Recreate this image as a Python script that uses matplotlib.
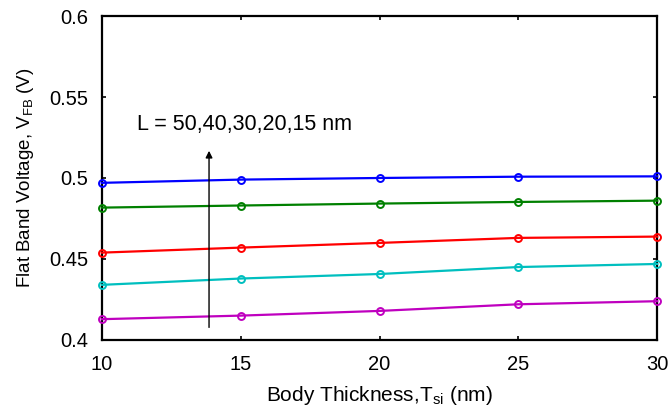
import matplotlib
matplotlib.use("Agg")
import matplotlib.pyplot as plt

plt.rcParams['font.family'] = ['Liberation Sans', 'DejaVu Sans']
plt.rcParams['mathtext.fontset'] = 'custom'
plt.rcParams['mathtext.rm'] = 'Liberation Sans'

tsi = [10, 15, 20, 25, 30]
vfb_L50 = [0.497, 0.499, 0.500, 0.5008, 0.501]
vfb_L40 = [0.4817, 0.483, 0.4842, 0.4852, 0.486]
vfb_L30 = [0.4539, 0.457, 0.4599, 0.463, 0.4638]
vfb_L20 = [0.434, 0.4379, 0.4407, 0.445, 0.4469]
vfb_L15 = [0.4128, 0.415, 0.4179, 0.422, 0.4239]
series = [vfb_L50, vfb_L40, vfb_L30, vfb_L20, vfb_L15]
colors = ['#0000ff', '#008000', '#ff0000', '#00bfbf', '#bf00bf']

fig = plt.figure(figsize=(6.7, 4.12), dpi=100)
ax = fig.add_axes([0.152, 0.175, 0.829, 0.786])
for ys, c in zip(series, colors):
    ax.plot(tsi, ys, color=c, lw=1.6, marker='o', ms=5, mfc='none', mew=1.4, clip_on=False, zorder=3)

ax.set_xlim(10, 30)
ax.set_ylim(0.4, 0.6)
ax.set_xticks([10, 15, 20, 25, 30])
ax.set_yticks([0.4, 0.45, 0.5, 0.55, 0.6])
ax.set_yticklabels(['0.4', '0.45', '0.5', '0.55', '0.6'])
ax.tick_params(direction='in', top=True, right=True, labelsize=14.5, length=3, width=1.2)
ax.tick_params(axis='x', pad=11)
ax.tick_params(axis='y', pad=10)
for s in ax.spines.values():
    s.set_linewidth(1.6)

ax.set_xlabel('Body Thickness,T$_{\\mathrm{si}}$ (nm)', fontsize=15, labelpad=7)
ax.set_ylabel('Flat Band Voltage, V$_{\\mathrm{FB}}$ (V)', fontsize=13.5, labelpad=9)

ax.annotate('', xy=(13.86, 0.5185), xytext=(13.86, 0.406),
            arrowprops=dict(arrowstyle='-|>', color='black', lw=1, mutation_scale=10))
ax.text(11.26, 0.533, 'L = 50,40,30,20,15 nm', fontsize=15.5, va='center', ha='left')

fig.savefig('out.png', dpi=100)
